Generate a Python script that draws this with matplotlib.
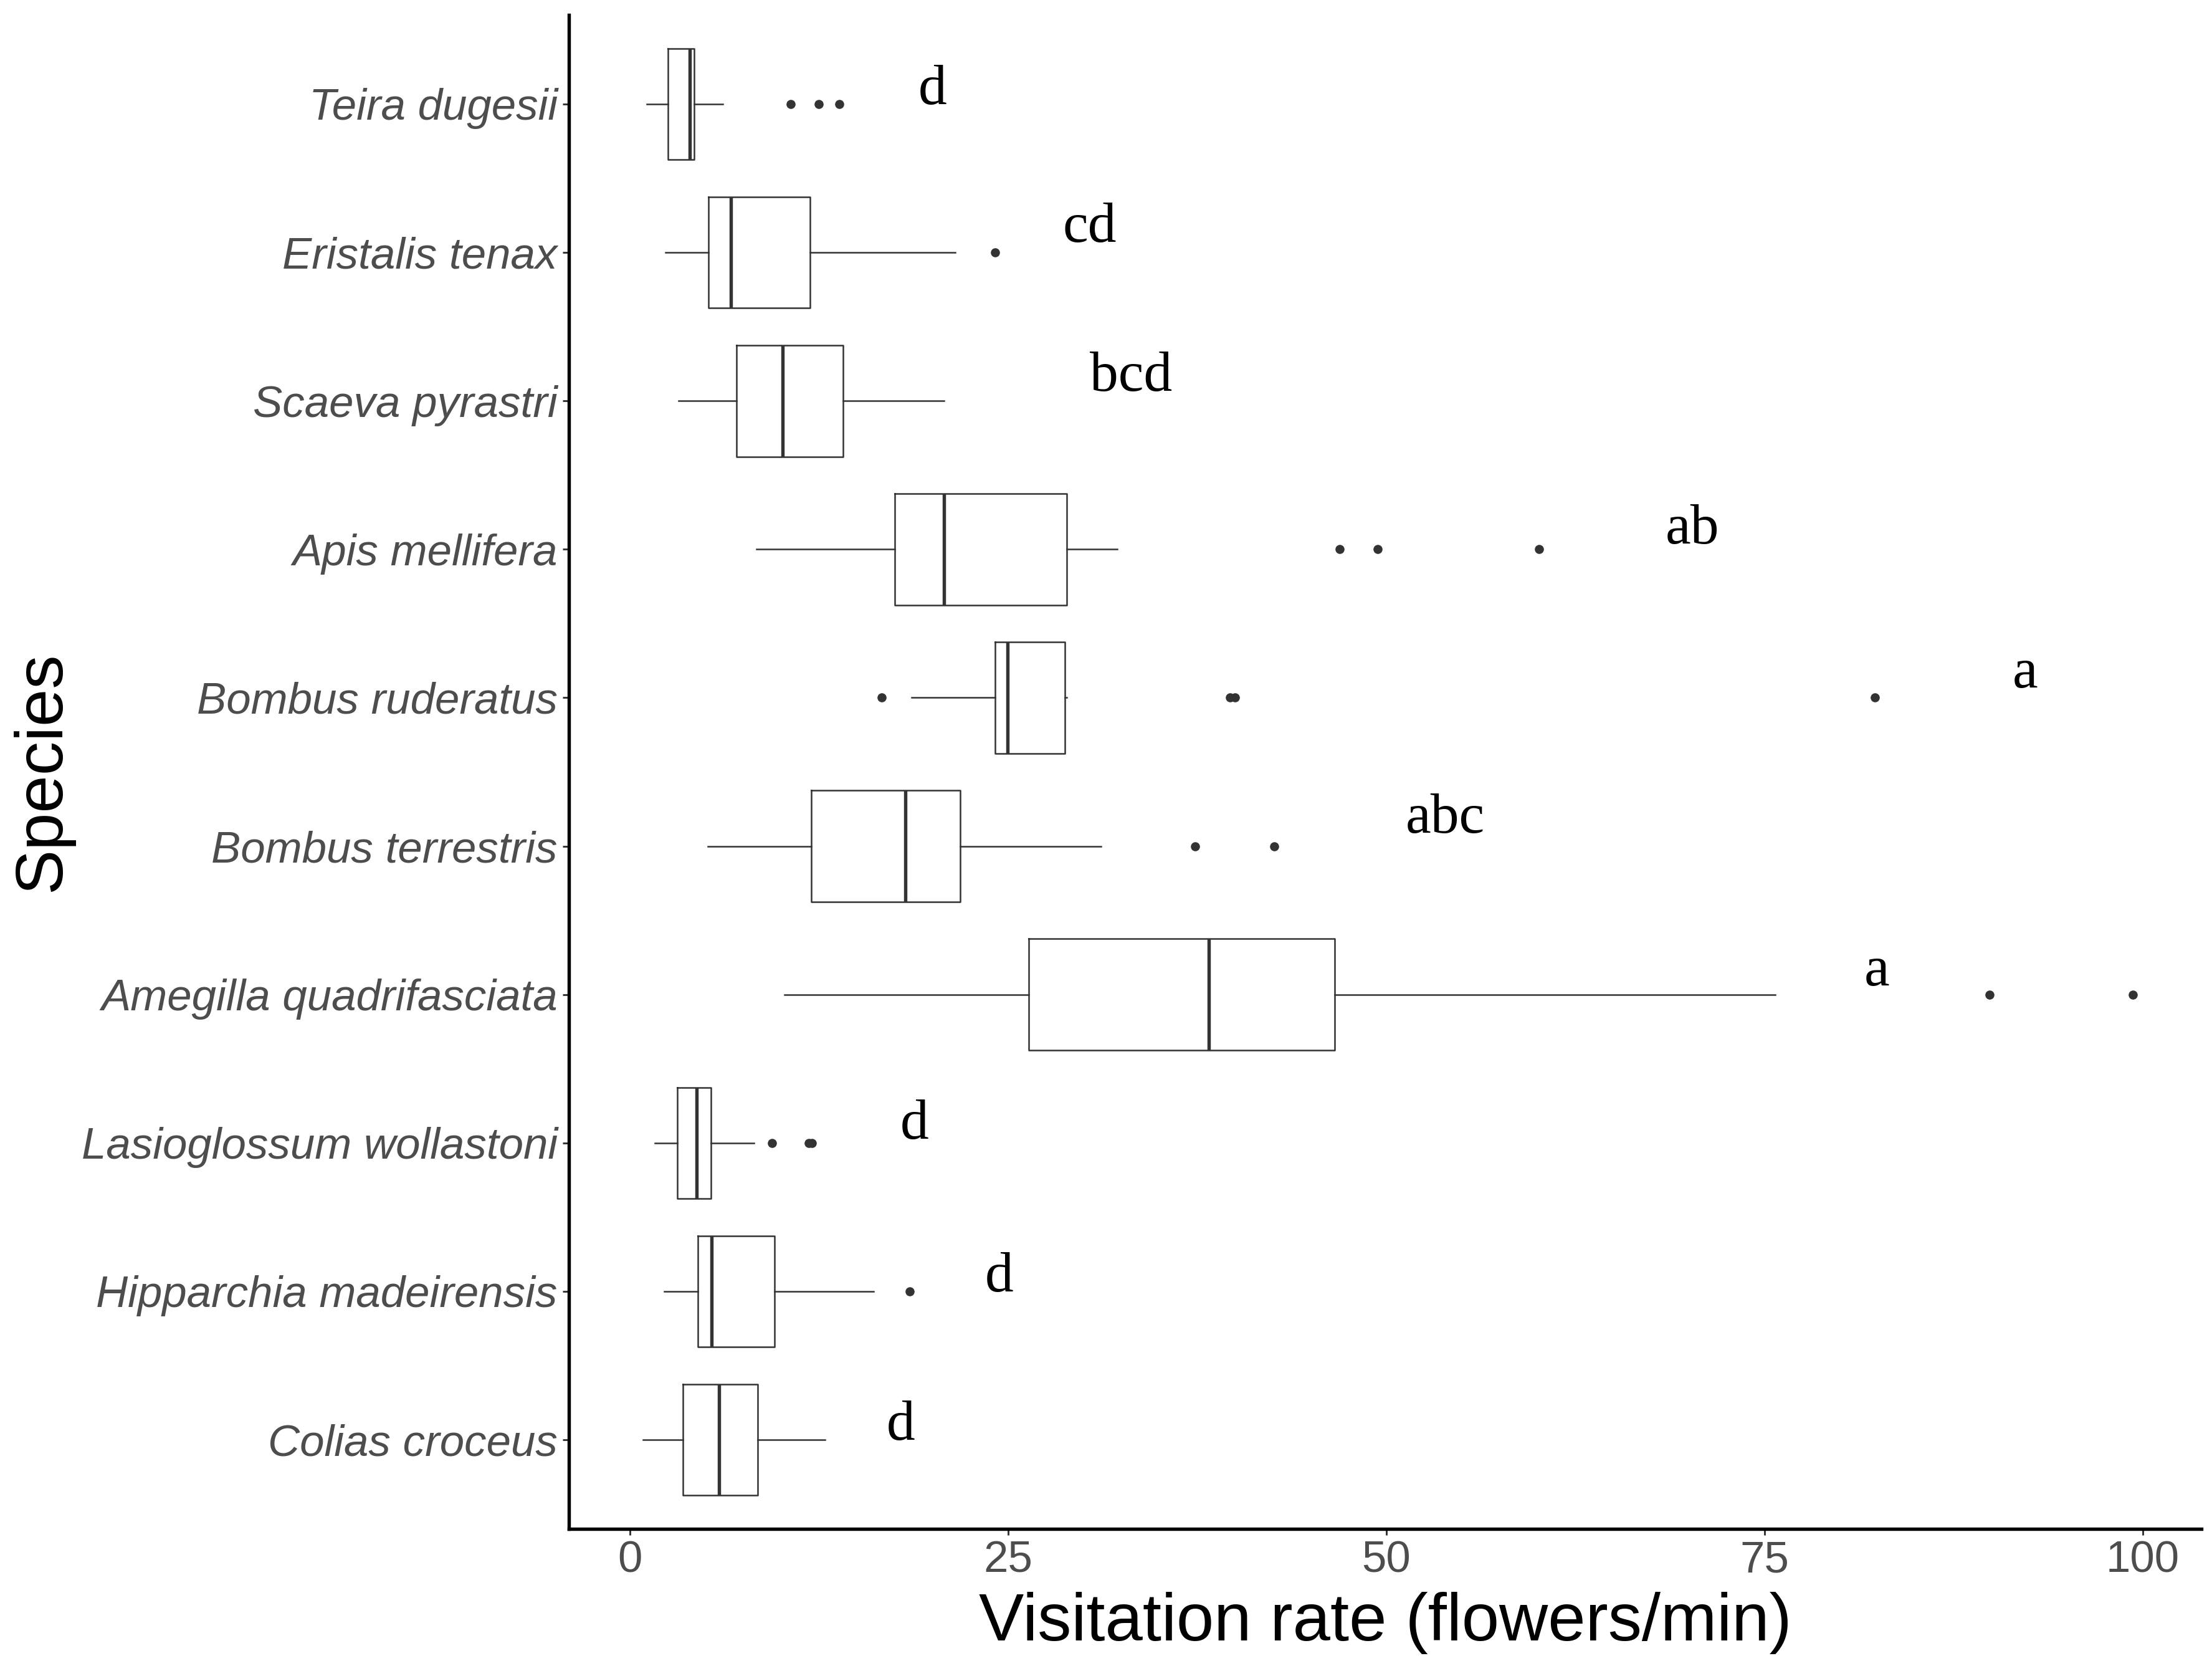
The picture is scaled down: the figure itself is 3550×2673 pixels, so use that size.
import matplotlib
matplotlib.use("Agg")
import matplotlib.pyplot as plt

plt.rcParams['font.family'] = ['Liberation Sans', 'DejaVu Sans']

# species, top to bottom
species = ["Teira dugesii", "Eristalis tenax", "Scaeva pyrastri", "Apis mellifera",
           "Bombus ruderatus", "Bombus terrestris", "Amegilla quadrifasciata",
           "Lasioglossum wollastoni", "Hipparchia madeirensis", "Colias croceus"]

# box statistics (flowers/min)
whisker_lo = [1.10, 2.34, 3.22, 8.37, 18.61, 5.14, 10.21, 1.63, 2.24, 0.87]
q1 = [2.50, 5.20, 7.05, 17.50, 24.15, 11.96, 26.34, 3.11, 4.49, 3.48]
median = [3.95, 6.65, 10.08, 20.77, 24.95, 18.21, 38.27, 4.41, 5.38, 5.88]
q3 = [4.25, 11.88, 14.09, 28.88, 28.75, 21.83, 46.59, 5.35, 9.53, 8.42]
whisker_hi = [6.12, 21.51, 20.77, 32.21, 28.88, 31.12, 75.70, 8.21, 16.08, 12.88]
outliers = [
    [10.61, 12.46, 13.83],
    [24.15],
    [],
    [46.9, 49.4, 60.1],
    [16.63, 39.66, 39.98, 82.30],
    [37.35, 42.57],
    [89.88, 99.35],
    [9.37, 11.80, 12.01],
    [18.48],
    [],
]

# significance letters and where they sit
letters = ["d", "cd", "bcd", "ab", "a", "abc", "a", "d", "d", "d"]
letter_x = [20.0, 30.4, 33.1, 70.2, 92.2, 53.9, 82.4, 18.8, 24.4, 17.9]
letter_dy = [0.0, -0.07, -0.07, -0.04, -0.07, -0.09, -0.06, -0.03, 0.0, 0.0]

xticks = [0, 25, 50, 75, 100]

stats = []
for i in range(len(species)):
    stats.append(dict(whislo=whisker_lo[i], q1=q1[i], med=median[i], q3=q3[i],
                      whishi=whisker_hi[i], fliers=outliers[i], label=species[i]))

fig = plt.figure(figsize=(3550 / 300, 2673 / 300), dpi=300)
ax = fig.add_axes([0.2572, 0.0823, 0.9952 - 0.2572, 0.991 - 0.0823])

pos = list(range(1, len(species) + 1))
dark = "#333333"
ax.bxp(stats, positions=pos, vert=False, widths=0.75, showcaps=False,
       boxprops=dict(color=dark, linewidth=0.6),
       whiskerprops=dict(color=dark, linewidth=0.6),
       medianprops=dict(color=dark, linewidth=1.3),
       flierprops=dict(marker='o', markersize=3.5, markerfacecolor=dark,
                       markeredgecolor='none', linestyle='none'))

for p, lab, lx, dy in zip(pos, letters, letter_x, letter_dy):
    ax.text(lx, p + dy, lab, ha='center', va='baseline', fontsize=22,
            family=['Liberation Serif', 'DejaVu Serif'], color='black')

ax.set_ylim(len(species) + 0.6, 0.4)
ax.set_xlim(-4.04, 103.87)
ax.set_yticks(pos)
ax.set_yticklabels(species, fontstyle='italic')
ax.set_xticks(xticks)
ax.set_xticklabels([str(t) for t in xticks])

for s in ['top', 'right']:
    ax.spines[s].set_visible(False)
for s in ['left', 'bottom']:
    ax.spines[s].set_linewidth(1.3)
    ax.spines[s].set_color('black')

ax.tick_params(axis='both', length=2.4, width=0.7, color=dark,
               labelcolor='#4D4D4D', labelsize=17, pad=2)

ax.set_xlabel("Visitation rate (flowers/min)", fontsize=26, color='black', labelpad=4)
ax.set_ylabel("Species", fontsize=26, color='black')
ax.yaxis.set_label_coords(-0.3034, 0.5)

fig.savefig("out.png", dpi=300)
